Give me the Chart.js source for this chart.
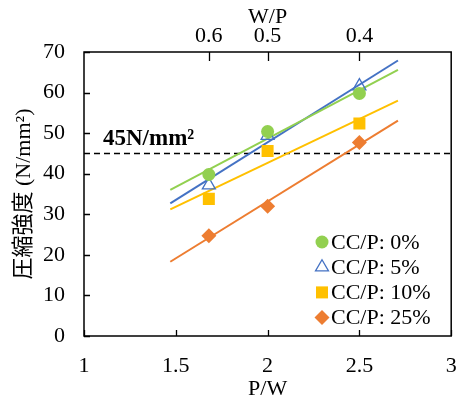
<!DOCTYPE html>
<html>
<head>
<meta charset="utf-8">
<script src="https://cdn.jsdelivr.net/npm/chart.js@4.4.1/dist/chart.umd.min.js"></script>
<style>
html,body{margin:0;padding:0;background:#fff;}
#wrap{width:460px;height:400px;}
</style>
</head>
<body>
<div id="wrap"><canvas id="c" width="460" height="400"></canvas></div>
<script>
// ---- data ----
const pwRatios = [1.68, 2.0, 2.5];            // P/W of each mix (x position)
const wpTickLabels = ['0.6', '0.5', '0.4'];   // top-axis labels (W/P)
const seriesNames = ['CC/P: 0%', 'CC/P: 5%', 'CC/P: 10%', 'CC/P: 25%'];
const cc0  = [39.8, 50.4, 59.8];
const cc5  = [37.2, 49.4, 61.6];
const cc10 = [33.8, 45.6, 52.4];
const cc25 = [24.7, 32.0, 47.7];
const trendX   = [1.47, 2.71];
const trend0   = [36.0, 65.6];
const trend5   = [32.7, 67.9];
const trend10  = [31.2, 58.0];
const trend25  = [18.3, 53.1];
const targetStrength = 45;
const targetLabel = '45N/mm²';
const xTicksPW = [1, 1.5, 2, 2.5, 3];

// ---- styling ----
const colors = ['#92D050', '#4472C4', '#FFC000', '#ED7D31'];
const FONT = '"Liberation Serif", "Times New Roman", "Noto Sans CJK JP", serif';
const pts = arr => arr.map((v, i) => ({x: pwRatios[i], y: v}));
const line = arr => arr.map((v, i) => ({x: trendX[i], y: v}));

const markerSets = [cc0, cc5, cc10, cc25];
const trendSets = [trend0, trend5, trend10, trend25];
const styles = [
  {pointStyle: 'circle', radius: 6.5, bg: colors[0], border: colors[0], bw: 0},
  {pointStyle: 'triangle', radius: 7.5, bg: 'rgba(0,0,0,0)', border: colors[1], bw: 1.3},
  {pointStyle: 'rect', radius: 8.5, bg: colors[2], border: colors[2], bw: 0},
  {pointStyle: 'rectRot', radius: 7.5, bg: colors[3], border: colors[3], bw: 0}
];

const datasets = [];
markerSets.forEach((s, i) => {
  datasets.push({
    label: seriesNames[i], data: pts(s), showLine: false, order: 1,
    pointStyle: styles[i].pointStyle, pointRadius: styles[i].radius, pointHoverRadius: styles[i].radius,
    pointBackgroundColor: styles[i].bg, pointBorderColor: styles[i].border, pointBorderWidth: styles[i].bw,
    isMarker: true
  });
});
trendSets.forEach((s, i) => {
  datasets.push({
    label: 'trend' + i, data: line(s), showLine: true, order: 2,
    borderColor: colors[i], borderWidth: 2, pointRadius: 0, fill: false
  });
});
datasets.push({
  label: 'target', data: [{x: 1, y: targetStrength}, {x: 3, y: targetStrength}],
  showLine: true, order: 3, borderColor: '#000', borderWidth: 1.5, borderDash: [6, 4],
  pointRadius: 0, fill: false
});

const tickFont = {family: FONT, size: 22};
const titleFont = {family: FONT, size: 22, lineHeight: 1};

const framePlugin = {
  id: 'frame',
  afterDraw(chart) {
    const ctx = chart.ctx, a = chart.chartArea;
    const sx = chart.scales.x, sy = chart.scales.y, st = chart.scales.x2;
    ctx.save();
    ctx.strokeStyle = '#000';
    ctx.lineWidth = 1.5;
    ctx.strokeRect(a.left, a.top, a.right - a.left, a.bottom - a.top);
    ctx.lineWidth = 1.3;
    ctx.beginPath();
    sy.ticks.forEach(t => {
      const y = Math.round(sy.getPixelForValue(t.value)) + 0.5;
      ctx.moveTo(a.left, y); ctx.lineTo(a.left + 6, y);
    });
    sx.ticks.forEach(t => {
      const x = Math.round(sx.getPixelForValue(t.value)) + 0.5;
      ctx.moveTo(x, a.bottom); ctx.lineTo(x, a.bottom - 6);
    });
    st.ticks.forEach(t => {
      const x = Math.round(st.getPixelForValue(t.value)) + 0.5;
      ctx.moveTo(x, a.top); ctx.lineTo(x, a.top + 9);
    });
    ctx.stroke();

    // target label
    ctx.fillStyle = '#000';
    ctx.font = 'bold 23px ' + FONT;
    ctx.textBaseline = 'alphabetic';
    ctx.textAlign = 'left';
    ctx.fillText(targetLabel, a.left + 19, sy.getPixelForValue(targetStrength) - 8);

    // legend
    const lx = 322, ly0 = 242, dy = 25.2;
    chart.data.datasets.filter(d => d.isMarker).forEach((d, i) => {
      const y = ly0 + i * dy;
      ctx.fillStyle = d.pointBackgroundColor;
      ctx.strokeStyle = d.pointBorderColor;
      ctx.lineWidth = d.pointBorderWidth || 1;
      Chart.helpers.drawPoint(ctx, {
        pointStyle: d.pointStyle, radius: d.pointRadius, borderWidth: d.pointBorderWidth
      }, lx, y);
      ctx.fillStyle = '#000';
      ctx.font = '22px ' + FONT;
      ctx.textBaseline = 'middle';
      ctx.textAlign = 'left';
      ctx.fillText(d.label, lx + 9, y + 1);
    });
    ctx.restore();
  }
};

const noPad = s => { s.paddingLeft = 0; s.paddingRight = 0; };

new Chart(document.getElementById('c'), {
  type: 'scatter',
  data: {datasets},
  plugins: [framePlugin],
  options: {
    responsive: false, animation: false, devicePixelRatio: 1,
    layout: {padding: {left: 0, right: 8, top: 0, bottom: 0}},
    plugins: {legend: {display: false}, tooltip: {enabled: false}},
    scales: {
      x: {
        type: 'linear', position: 'bottom', min: 1, max: 3,
        afterBuildTicks: s => { s.ticks = xTicksPW.map(v => ({value: v})); },
        afterFit: s => { s.height = 64; noPad(s); },
        grid: {display: false, drawTicks: false}, border: {display: false},
        ticks: {font: tickFont, color: '#000', padding: 17, maxRotation: 0,
                callback: v => String(v)},
        title: {display: true, text: 'P/W', font: titleFont, color: '#000', padding: {top: 0, bottom: 0}}
      },
      x2: {
        type: 'linear', position: 'top', min: 1, max: 3,
        afterBuildTicks: s => { s.ticks = pwRatios.map(v => ({value: v})); },
        afterFit: s => { s.height = 52; noPad(s); },
        grid: {display: false, drawTicks: false}, border: {display: false},
        ticks: {font: tickFont, color: '#000', padding: 3, maxRotation: 0,
                callback: (v, i) => wpTickLabels[i]},
        title: {display: true, text: 'W/P', font: tickFont, color: '#000', padding: {top: 4, bottom: 0}}
      },
      y: {
        type: 'linear', position: 'left', min: 0, max: 70,
        afterFit: s => { s.width = 84; },
        grid: {display: false, drawTicks: false}, border: {display: false},
        ticks: {font: tickFont, color: '#000', padding: 19, stepSize: 10},
        title: {display: true, text: '圧縮強度 (N/mm²)', font: tickFont, color: '#000', padding: {top: 11, bottom: 0}}
      }
    }
  }
});
</script>
</body>
</html>
